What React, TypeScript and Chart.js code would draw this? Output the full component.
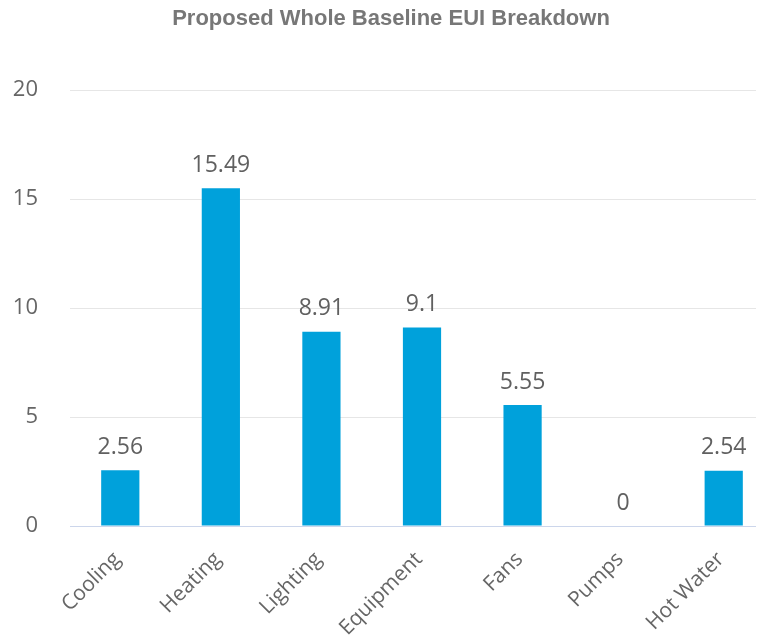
import React, { useEffect, useRef } from "react";
import { Chart, registerables } from "chart.js";

Chart.register(...registerables);

const title = "Proposed Whole Baseline EUI Breakdown";
const categories = ["Cooling", "Heating", "Lighting", "Equipment", "Fans", "Pumps", "Hot Water"];
const values = [2.56, 15.49, 8.91, 9.1, 5.55, 0, 2.54];
const yTicks = [0, 5, 10, 15, 20];

const CANVAS_W = 780;
const CANVAS_H = 633;
const AREA_LEFT = 62;
const AREA_TOP = 82;
const AREA_BOTTOM = 518;
const TITLE_SIZE = 22;
const TITLE_LH = 1.0;

const dataLabels = {
  id: "dataLabels",
  afterDatasetsDraw(chart: any) {
    const ctx = chart.ctx;
    const meta = chart.getDatasetMeta(0);
    ctx.save();
    ctx.font = "23px 'Open Sans'";
    ctx.fillStyle = "#606060";
    ctx.textAlign = "center";
    ctx.textBaseline = "middle";
    meta.data.forEach((bar: any, i: number) => {
      const v = chart.data.datasets[0].data[i];
      ctx.fillText(String(v), bar.x, bar.y - 23);
    });
    ctx.restore();
  },
};

export default function App() {
  const ref = useRef<HTMLCanvasElement | null>(null);
  useEffect(() => {
    if (!ref.current) return;
    const chart = new Chart(ref.current, {
      type: "bar",
      data: {
        labels: categories,
        datasets: [
          {
            data: values,
            backgroundColor: "#00a1db",
            borderWidth: 0,
            barPercentage: 0.38,
            categoryPercentage: 1,
          },
        ],
      },
      plugins: [dataLabels],
      options: {
        responsive: false,
        animation: false,
        devicePixelRatio: 1,
        layout: { padding: { left: 0, right: CANVAS_W - 766, top: 0, bottom: 0 } },
        plugins: {
          legend: { display: false },
          tooltip: { enabled: false },
          title: {
            display: true,
            text: title,
            color: "#777777",
            font: { family: "'Liberation Sans', Arial, sans-serif", size: TITLE_SIZE, weight: "bold", lineHeight: TITLE_LH },
            padding: { top: 0, bottom: AREA_TOP - TITLE_SIZE * TITLE_LH },
          },
        },
        scales: {
          x: {
            grid: { display: false },
            border: { display: true, color: "#ccd6eb", width: 1 },
            ticks: {
              color: "#666666",
              font: { family: "'Open Sans'", size: 21 },
              minRotation: 45,
              maxRotation: 45,
              padding: 13,
              labelOffset: -3,
            },
            afterFit: (axis: any) => {
              axis.height = CANVAS_H - AREA_BOTTOM;
            },
          },
          y: {
            min: 0,
            max: 20,
            afterBuildTicks: (axis: any) => {
              axis.ticks = yTicks.map((v) => ({ value: v }));
            },
            grid: {
              drawTicks: false,
              color: (c: any) => (c.tick && c.tick.value === 0 ? "#ccd6eb" : "#e6e6e6"),
              lineWidth: 1,
            },
            border: { display: false },
            ticks: {
              color: "#666666",
              font: { family: "'Open Sans'", size: 22 },
              padding: 32,
            },
            afterFit: (axis: any) => {
              axis.width = AREA_LEFT;
            },
          },
        },
      },
    });
    return () => chart.destroy();
  }, []);

  return (
    <div style={{ width: 756, height: CANVAS_H, overflow: "hidden" }}>
      <canvas
        ref={ref}
        width={CANVAS_W}
        height={CANVAS_H}
        style={{ display: "block", width: CANVAS_W, height: CANVAS_H }}
      />
    </div>
  );
}
